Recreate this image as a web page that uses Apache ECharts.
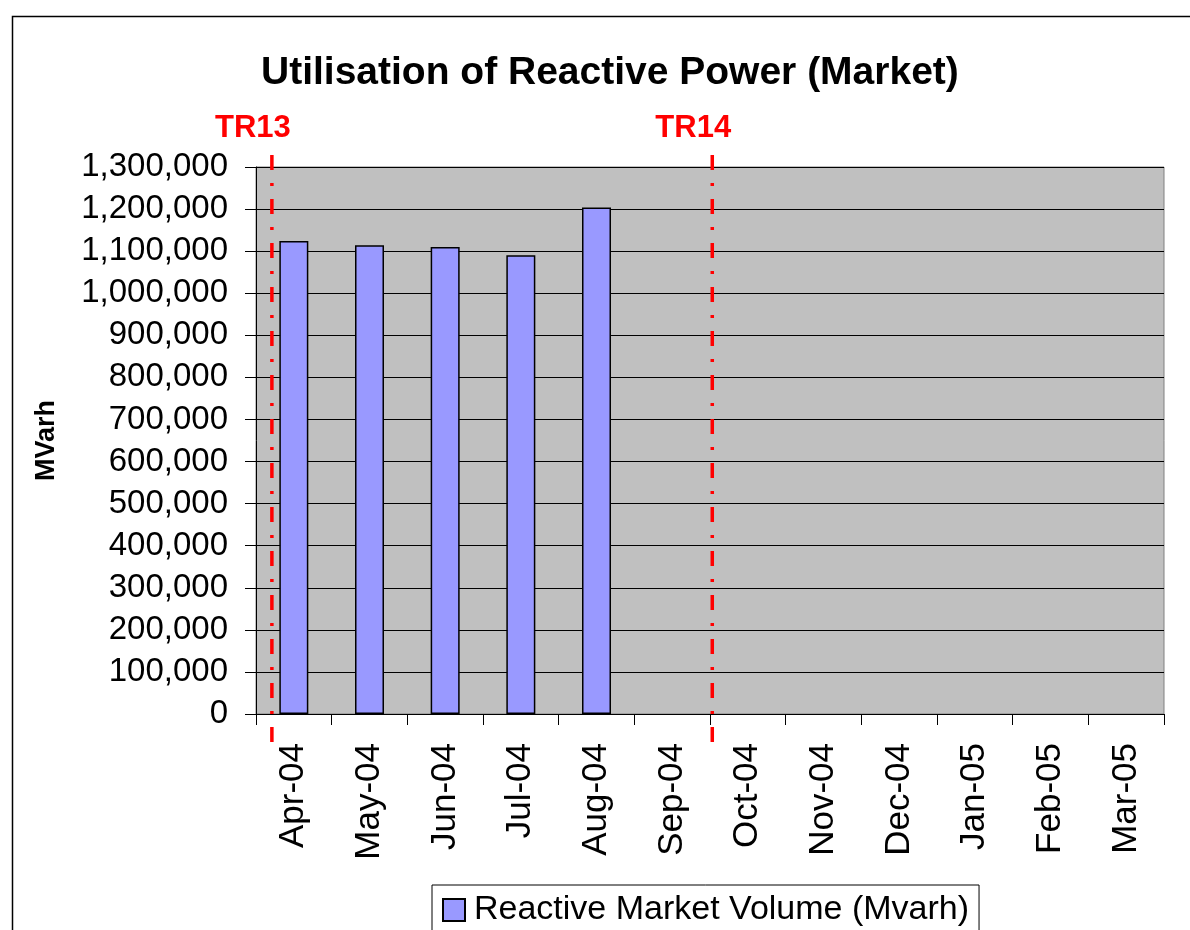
<!DOCTYPE html>
<html>
<head>
<meta charset="utf-8">
<style>
html,body{margin:0;padding:0;background:#fff;}
#chart{width:1190px;height:930px;}
</style>
<script src="https://cdn.jsdelivr.net/npm/echarts@6/dist/echarts.min.js"></script>
</head>
<body>
<div id="chart"></div>
<script>
const categories = ['Apr-04','May-04','Jun-04','Jul-04','Aug-04','Sep-04','Oct-04','Nov-04','Dec-04','Jan-05','Feb-05','Mar-05'];
const marketVolume = [1124000, 1114000, 1110000, 1090000, 1204000, null, null, null, null, null, null, null];
const seriesName = 'Reactive Market Volume (Mvarh)';
const periodMarkers = [[0.21, 'TR13'], [6.03, 'TR14']];
const yMin = 0, yMax = 1300000, yStep = 100000;

const FONT = '"Liberation Sans", Arial, sans-serif';
const chart = echarts.init(document.getElementById('chart'));

chart.setOption({
  backgroundColor: '#ffffff',
  animation: false,
  graphic: [{
    type: 'rect', left: 10, top: 14, z: -1,
    shape: { x: 0, y: 0, width: 1300, height: 1100 },
    style: { fill: 'none', stroke: '#000', lineWidth: 1.5 }
  }],
  title: {
    text: 'Utilisation of Reactive Power (Market)',
    left: 256, top: 49,
    textStyle: { fontFamily: FONT, fontSize: 39, fontWeight: 'bold', color: '#000' }
  },
  grid: {
    left: 256, top: 167, width: 908, height: 547,
    show: true, backgroundColor: '#C0C0C0', borderColor: '#808080', borderWidth: 1
  },
  legend: {
    data: [seriesName],
    left: 432, top: 885,
    itemWidth: 22, itemHeight: 22, itemGap: 10,
    padding: [8, 10, 30, 10],
    borderColor: '#000', borderWidth: 1,
    icon: 'rect',
    textStyle: { fontFamily: FONT, fontSize: 34, color: '#000', padding: [0, 0, 0, 4] }
  },
  xAxis: [{
    type: 'category',
    data: categories,
    boundaryGap: true,
    axisLine: { show: true, lineStyle: { color: '#000', width: 1 } },
    axisTick: { show: true, length: 11, alignWithLabel: false, lineStyle: { color: '#000' } },
    axisLabel: { rotate: 90, margin: 29, fontFamily: FONT, fontSize: 35, color: '#000', interval: 0 },
    splitLine: { show: false }
  }, {
    type: 'value', min: 0, max: categories.length, show: false
  }],
  yAxis: {
    type: 'value', min: yMin, max: yMax, interval: yStep,
    name: 'MVarh', nameLocation: 'middle', nameRotate: 90, nameGap: 196,
    nameTextStyle: { fontFamily: FONT, fontSize: 27, fontWeight: 'bold', color: '#000' },
    axisLine: { show: true, lineStyle: { color: '#000', width: 1 } },
    axisTick: { show: true, inside: false, length: 11, lineStyle: { color: '#000' } },
    axisLabel: {
      margin: 28, fontFamily: FONT, fontSize: 33, color: '#000',
      formatter: v => v.toLocaleString('en-US')
    },
    splitLine: { show: true, lineStyle: { color: '#000', width: 1 } }
  },
  series: [{
    name: seriesName,
    type: 'bar',
    data: marketVolume,
    barWidth: 29,
    itemStyle: { color: '#9999FF', borderColor: '#000', borderWidth: 1.5 }
  }, {
    type: 'custom',
    xAxisIndex: 1,
    yAxisIndex: 0,
    clip: false,
    silent: true,
    data: periodMarkers,
    renderItem: function (params, api) {
      const x = api.value(0);
      const top = api.coord([x, yMax]);
      const bottom = api.coord([x, yMin]);
      const label = periodMarkers[params.dataIndex][1];
      return {
        type: 'group',
        children: [{
          type: 'line',
          shape: { x1: top[0], y1: top[1] - 12, x2: bottom[0], y2: bottom[1] + 29 },
          style: { stroke: '#FF0000', lineWidth: 3.5, lineDash: [15, 13, 3, 13] }
        }, {
          type: 'text',
          style: {
            x: top[0] - 19, y: top[1] - 23,
            text: label, fill: '#FF0000',
            font: 'bold 31px ' + FONT,
            align: 'center', verticalAlign: 'bottom'
          }
        }]
      };
    }
  }]
});
</script>
</body>
</html>
